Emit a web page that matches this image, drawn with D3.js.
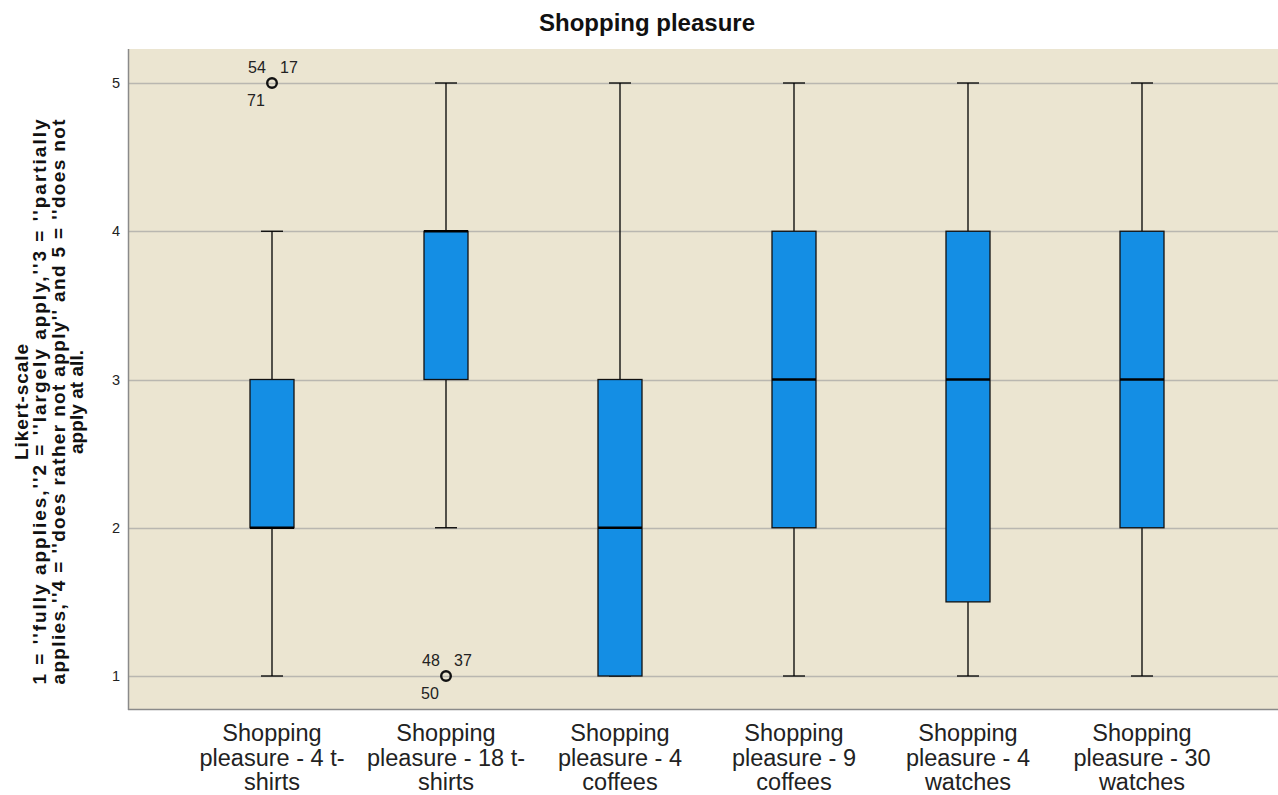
<!DOCTYPE html>
<html>
<head>
<meta charset="utf-8">
<script src="https://cdn.jsdelivr.net/npm/d3@7"></script>
<style>
  html, body { margin: 0; padding: 0; background: #ffffff; }
  svg { display: block; }
</style>
</head>
<body>
<svg id="chart" width="1278" height="795"></svg>
<script>
// Box plot categories and five-number summaries (Likert 1..5)
const categories = [
  ["Shopping", "pleasure - 4 t-", "shirts"],
  ["Shopping", "pleasure - 18 t-", "shirts"],
  ["Shopping", "pleasure - 4", "coffees"],
  ["Shopping", "pleasure - 9", "coffees"],
  ["Shopping", "pleasure - 4", "watches"],
  ["Shopping", "pleasure - 30", "watches"]
];
const whiskerLow  = [1, 2, 1, 1, 1,   1];
const quartile1   = [2, 3, 1, 2, 1.5, 2];
const medians     = [2, 4, 2, 3, 3,   3];
const quartile3   = [3, 4, 3, 4, 4,   4];
const whiskerHigh = [4, 5, 5, 5, 5,   5];

// Outliers: category index, value, case labels
const outlierCat    = [0, 1];
const outlierValue  = [5, 1];
const outlierLabels = [["54", "17", "71"], ["48", "37", "50"]];

const yTicks = [1, 2, 3, 4, 5];
const titleText = "Shopping pleasure";
const yLabelLines = [
  "Likert-scale",
  "1 = ''fully applies,''2 = ''largely apply,''3 = ''partially",
  "applies,''4 = ''does rather not apply'' and 5 = ''does not",
  "apply at all."
];

const svg = d3.select("#chart");
const plot = { left: 128, right: 1278, top: 49, bottom: 709 };
const FONT = "Liberation Sans, Arial, sans-serif";

const y = d3.scaleLinear().domain([1, 5]).range([676, 83]);
const x = d3.scaleBand().domain(d3.range(categories.length)).range([185, 1229]);
const boxW = 44, capW = 22;

// Plot background
svg.append("rect")
  .attr("x", plot.left).attr("y", plot.top)
  .attr("width", plot.right - plot.left).attr("height", plot.bottom - plot.top)
  .attr("fill", "#ebe5d1");

// Horizontal gridlines
svg.append("g").selectAll("line").data(yTicks).join("line")
  .attr("x1", plot.left).attr("x2", plot.right)
  .attr("y1", d => Math.round(y(d)) + 0.5).attr("y2", d => Math.round(y(d)) + 0.5)
  .attr("stroke", "#b9b7b0").attr("stroke-width", 1.5);

// Axis frame lines
svg.append("line").attr("x1", plot.left + 0.5).attr("x2", plot.left + 0.5)
  .attr("y1", plot.top).attr("y2", plot.bottom + 1)
  .attr("stroke", "#8a8a8a").attr("stroke-width", 1.5);
svg.append("line").attr("x1", plot.left).attr("x2", plot.right)
  .attr("y1", plot.bottom + 0.5).attr("y2", plot.bottom + 0.5)
  .attr("stroke", "#8a8a8a").attr("stroke-width", 1.5);

// Y axis tick labels
const yAxis = d3.axisLeft(y).tickValues(yTicks).tickFormat(d3.format("d")).tickSize(0).tickPadding(8);
const yg = svg.append("g").attr("transform", `translate(${plot.left},0)`).call(yAxis);
yg.select(".domain").remove();
yg.selectAll("text").attr("font-family", FONT).attr("font-size", 14.5).attr("fill", "#222");

// Boxes with whiskers and medians
const g = svg.append("g");
categories.forEach((c, i) => {
  const cx = x(i) + x.bandwidth() / 2;
  g.append("line").attr("x1", cx).attr("x2", cx)
    .attr("y1", y(whiskerHigh[i])).attr("y2", y(quartile3[i]))
    .attr("stroke", "#000").attr("stroke-width", 1.3);
  g.append("line").attr("x1", cx).attr("x2", cx)
    .attr("y1", y(quartile1[i])).attr("y2", y(whiskerLow[i]))
    .attr("stroke", "#000").attr("stroke-width", 1.3);
  [whiskerHigh[i], whiskerLow[i]].forEach(v => {
    g.append("line").attr("x1", cx - capW / 2).attr("x2", cx + capW / 2)
      .attr("y1", y(v)).attr("y2", y(v))
      .attr("stroke", "#000").attr("stroke-width", 1.3);
  });
  g.append("rect")
    .attr("x", cx - boxW / 2).attr("y", y(quartile3[i]))
    .attr("width", boxW).attr("height", y(quartile1[i]) - y(quartile3[i]))
    .attr("fill", "#148ee4").attr("stroke", "#111").attr("stroke-width", 1.3);
  g.append("line").attr("x1", cx - boxW / 2).attr("x2", cx + boxW / 2)
    .attr("y1", y(medians[i])).attr("y2", y(medians[i]))
    .attr("stroke", "#000").attr("stroke-width", 2.6);
});

// Outliers with case numbers
outlierCat.forEach((ci, k) => {
  const cx = x(ci) + x.bandwidth() / 2;
  const cy = y(outlierValue[k]);
  g.append("circle").attr("cx", cx).attr("cy", cy).attr("r", 4.8)
    .attr("fill", "none").attr("stroke", "#111").attr("stroke-width", 2.4);
  const pos = [[-15, -10], [17, -10], [-16, 23]];
  outlierLabels[k].forEach((t, j) => {
    g.append("text").attr("x", cx + pos[j][0]).attr("y", cy + pos[j][1])
      .attr("text-anchor", "middle")
      .attr("font-family", FONT).attr("font-size", 16)
      .attr("fill", "#222").text(t);
  });
});

// X category labels
categories.forEach((lines, i) => {
  const cx = x(i) + x.bandwidth() / 2;
  const t = svg.append("text").attr("text-anchor", "middle")
    .attr("font-family", FONT).attr("font-size", 23.5).attr("fill", "#222");
  lines.forEach((ln, j) => {
    t.append("tspan").attr("x", cx).attr("y", 741 + j * 24.5).text(ln);
  });
});

// Title
svg.append("text").attr("x", 647).attr("y", 31).attr("text-anchor", "middle")
  .attr("font-family", FONT).attr("font-size", 24)
  .attr("font-weight", "bold").attr("fill", "#111").text(titleText);

// Rotated y axis title
const yLens = [116, 565, 565, 104];
const yl = svg.append("g").attr("transform", "translate(0,402) rotate(-90)");
yLabelLines.forEach((ln, j) => {
  yl.append("text").attr("x", 0).attr("y", 28 + j * 18.3)
    .attr("text-anchor", "middle")
    .attr("font-family", FONT).attr("font-size", 19)
    .attr("font-weight", "bold").attr("fill", "#111")
    .attr("textLength", yLens[j]).attr("lengthAdjust", "spacing")
    .text(ln);
});
</script>
</body>
</html>
